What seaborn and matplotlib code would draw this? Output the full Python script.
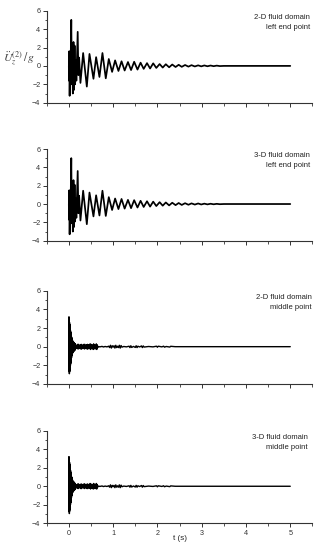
import matplotlib
matplotlib.use("Agg")
import matplotlib.pyplot as plt
from matplotlib.ticker import MultipleLocator
import seaborn as sns
import pandas as pd

# ---- data (extrema of the acceleration records) ----
t_left_2d = [0.000, 0.004, 0.010, 0.018, 0.028, 0.036, 0.055, 0.068, 0.078, 0.090,
             0.105, 0.118, 0.130, 0.142, 0.155, 0.170, 0.200, 0.215, 0.232, 0.262,
             0.323, 0.406, 0.466, 0.556, 0.616, 0.691, 0.759, 0.834, 0.902, 0.977,
             1.045, 1.120, 1.190, 1.260, 1.335, 1.405, 1.475, 1.550, 1.620, 1.690,
             1.765, 1.835, 1.905, 1.975, 2.050, 2.120, 2.190, 2.265, 2.335, 2.410,
             2.480, 2.550, 2.625, 2.700, 2.770, 2.845, 2.920, 2.990, 3.060, 3.130,
             3.200, 3.270, 3.340, 3.410, 3.500, 5.000]
v_left_2d = [0.00, -1.60, 1.60, -3.25, 0.60, -1.20, 5.00, -2.00, 1.20, -3.00,
             2.60, -2.60, 2.20, -2.00, 0.60, -1.60, 3.70, -1.00, 0.90, -1.85,
             1.40, -2.25, 1.30, -1.40, 0.95, -1.20, 1.40, -1.35, 0.75, -0.65,
             0.60, -0.55, 0.50, -0.50, 0.42, -0.45, 0.45, -0.40, 0.35, -0.32,
             0.30, -0.28, 0.28, -0.22, 0.20, -0.18, 0.18, -0.15, 0.15, -0.12,
             0.12, -0.10, 0.10, -0.08, 0.08, -0.06, 0.06, -0.05, 0.05, -0.04,
             0.04, -0.03, 0.03, -0.02, 0.00, 0.00]

t_left_3d = [0.000, 0.004, 0.010, 0.018, 0.028, 0.036, 0.055, 0.068, 0.078, 0.090,
             0.105, 0.118, 0.130, 0.142, 0.155, 0.170, 0.200, 0.215, 0.232, 0.262,
             0.323, 0.406, 0.466, 0.556, 0.616, 0.691, 0.759, 0.834, 0.902, 0.977,
             1.045, 1.120, 1.190, 1.260, 1.335, 1.405, 1.475, 1.550, 1.620, 1.690,
             1.765, 1.835, 1.905, 1.975, 2.050, 2.120, 2.190, 2.265, 2.335, 2.410,
             2.480, 2.550, 2.625, 2.700, 2.770, 2.845, 2.920, 2.990, 3.060, 3.130,
             3.200, 3.270, 3.340, 3.410, 3.500, 5.000]
v_left_3d = [0.00, -1.70, 1.50, -3.30, 0.50, -1.10, 5.00, -2.10, 1.10, -3.00,
             2.60, -2.50, 2.10, -1.90, 0.60, -1.50, 3.60, -1.00, 0.90, -1.80,
             1.45, -2.20, 1.25, -1.35, 0.95, -1.25, 1.45, -1.30, 0.75, -0.65,
             0.60, -0.55, 0.55, -0.50, 0.45, -0.45, 0.42, -0.38, 0.35, -0.32,
             0.30, -0.28, 0.26, -0.22, 0.20, -0.18, 0.17, -0.15, 0.14, -0.12,
             0.11, -0.10, 0.09, -0.08, 0.07, -0.06, 0.06, -0.05, 0.04, -0.04,
             0.03, -0.03, 0.02, -0.02, 0.00, 0.00]

t_mid = [0.000, 0.003, 0.006, 0.009, 0.012, 0.015, 0.018, 0.021, 0.024, 0.027,
         0.030, 0.033, 0.036, 0.039, 0.042, 0.045, 0.048, 0.051, 0.054, 0.057,
         0.060, 0.063, 0.066, 0.069, 0.072, 0.075, 0.078, 0.081, 0.084, 0.087,
         0.090, 0.093, 0.096, 0.099, 0.102, 0.106, 0.110, 0.114, 0.118, 0.122,
         0.126, 0.130, 0.134, 0.138, 0.142, 0.146, 0.150, 0.155, 0.160, 0.165,
         0.170, 0.180, 0.190, 0.200, 0.210, 0.220, 0.230, 0.240, 0.250, 0.260,
         0.270, 0.280, 0.290, 0.300, 0.310, 0.320, 0.330, 0.340, 0.350, 0.360,
         0.370, 0.380, 0.390, 0.400, 0.410, 0.420, 0.430, 0.440, 0.450, 0.460,
         0.470, 0.480, 0.490, 0.500, 0.510, 0.520, 0.530, 0.540, 0.550, 0.560,
         0.570, 0.580, 0.590, 0.600, 0.610, 0.620, 0.630, 0.640, 0.650, 0.670,
         0.700, 0.750, 0.780, 0.820, 0.860, 0.900, 0.920, 0.940, 0.960, 0.980,
         1.000, 1.020, 1.040, 1.060, 1.080, 1.100, 1.120, 1.140, 1.160, 1.180,
         1.200, 1.240, 1.300, 1.360, 1.380, 1.400, 1.420, 1.460, 1.500, 1.520,
         1.540, 1.560, 1.600, 1.640, 1.660, 1.680, 1.700, 1.800, 1.900, 1.980,
         2.000, 2.020, 2.100, 2.140, 2.160, 2.200, 2.280, 2.300, 2.400, 5.000]
v_mid_2d = [0.00, 3.20, -2.60, 2.90, -2.90, 2.60, -2.70, 2.40, -2.50, 2.20,
            -2.20, 1.90, -2.00, 1.70, -1.80, 1.50, -1.60, 1.30, -1.40, 1.10,
            -1.20, 1.00, -1.00, 0.90, -0.90, 0.80, -0.80, 0.70, -0.70, 0.60,
            -0.60, 0.50, -0.55, 0.50, -0.50, 0.45, -0.50, 0.40, -0.45, 0.45,
            -0.40, 0.35, -0.35, 0.30, -0.35, 0.30, -0.25, 0.20, -0.15, 0.10,
            -0.10, 0.15, -0.20, 0.25, -0.25, 0.25, -0.20, 0.10, -0.05, 0.20,
            -0.25, 0.25, -0.25, 0.20, -0.10, 0.05, -0.15, 0.25, -0.25, 0.25,
            -0.20, 0.10, -0.05, 0.20, -0.25, 0.25, -0.25, 0.20, -0.10, 0.05,
            -0.20, 0.30, -0.30, 0.25, -0.20, 0.05, -0.05, 0.20, -0.30, 0.30,
            -0.25, 0.20, -0.05, 0.05, -0.25, 0.30, -0.30, 0.20, -0.10, 0.02,
            -0.02, 0.03, -0.03, 0.02, -0.02, 0.05, -0.10, 0.15, -0.15, 0.10,
            -0.05, 0.10, -0.15, 0.15, -0.10, 0.05, -0.10, 0.15, -0.15, 0.12,
            -0.05, 0.02, -0.02, 0.05, -0.10, 0.10, -0.08, 0.03, -0.08, 0.10,
            -0.10, 0.05, -0.03, 0.08, -0.10, 0.08, -0.04, 0.02, -0.02, 0.05,
            -0.06, 0.05, -0.02, 0.05, -0.05, 0.02, -0.04, 0.04, 0.00, 0.00]
v_mid_3d = [0.00, 3.20, -2.70, 2.90, -2.95, 2.60, -2.70, 2.40, -2.50, 2.20,
            -2.20, 1.90, -2.00, 1.70, -1.80, 1.50, -1.60, 1.30, -1.40, 1.10,
            -1.20, 1.00, -1.00, 0.90, -0.90, 0.80, -0.80, 0.70, -0.70, 0.60,
            -0.60, 0.50, -0.55, 0.50, -0.50, 0.45, -0.50, 0.40, -0.45, 0.45,
            -0.40, 0.35, -0.35, 0.30, -0.35, 0.30, -0.25, 0.20, -0.15, 0.10,
            -0.10, 0.15, -0.20, 0.25, -0.25, 0.25, -0.20, 0.10, -0.05, 0.20,
            -0.25, 0.25, -0.25, 0.20, -0.10, 0.05, -0.15, 0.25, -0.25, 0.25,
            -0.20, 0.10, -0.05, 0.20, -0.25, 0.25, -0.25, 0.20, -0.10, 0.05,
            -0.20, 0.30, -0.30, 0.25, -0.20, 0.05, -0.05, 0.20, -0.30, 0.30,
            -0.25, 0.20, -0.05, 0.05, -0.25, 0.30, -0.30, 0.20, -0.10, 0.02,
            -0.02, 0.03, -0.03, 0.02, -0.02, 0.05, -0.10, 0.15, -0.15, 0.10,
            -0.05, 0.10, -0.15, 0.15, -0.10, 0.05, -0.10, 0.15, -0.15, 0.12,
            -0.05, 0.02, -0.02, 0.05, -0.10, 0.10, -0.08, 0.03, -0.08, 0.10,
            -0.10, 0.05, -0.03, 0.08, -0.10, 0.08, -0.04, 0.02, -0.02, 0.05,
            -0.06, 0.05, -0.02, 0.05, -0.05, 0.02, -0.04, 0.04, 0.00, 0.00]

labels_line1 = ["2-D fluid domain", "3-D fluid domain", "2-D fluid domain", "3-D fluid domain"]
labels_line2 = ["left end point", "left end point", "middle point", "middle point"]
x_ticks = [0, 1, 2, 3, 4, 5]
y_ticks = [-4, -2, 0, 2, 4, 6]
x_label = "t (s)"
y_label = r"$\ddot{U}_z^{(2)}\,/\,g$"

series = [(t_left_2d, v_left_2d), (t_left_3d, v_left_3d),
          (t_mid, v_mid_2d), (t_mid, v_mid_3d)]
line_widths = [1.25, 1.25, 1.0, 1.0]

# ---- figure ----
sns.set_style("ticks")
plt.rcParams['font.family'] = ['Liberation Sans', 'DejaVu Sans']
plt.rcParams['mathtext.fontset'] = 'stix'

fig = plt.figure(figsize=(3.23, 5.57), dpi=100)
W, H = 323.0, 557.0
left_px, right_px = 46.7, 312.4
panels_px = [(10.7, 102.7), (149.0, 240.7), (290.7, 384.0), (430.7, 523.3)]
text_right = [310.0, 310.0, 311.5, 307.5]

spine_col = "#333333"
for i, ((top, bot), (tt, vv)) in enumerate(zip(panels_px, series)):
    ax = fig.add_axes([left_px / W, 1 - bot / H, (right_px - left_px) / W, (bot - top) / H])
    df = pd.DataFrame({"t": tt, "a": vv})
    sns.lineplot(data=df, x="t", y="a", ax=ax, estimator=None, sort=False,
                 color="black", linewidth=line_widths[i])
    ax.set_xlim(-0.5, 5.5)
    ax.set_ylim(-4, 6)
    ax.set_xticks(x_ticks)
    ax.set_yticks(y_ticks)
    ax.xaxis.set_minor_locator(MultipleLocator(0.5))
    ax.yaxis.set_minor_locator(MultipleLocator(1))
    sns.despine(ax=ax)
    for s in ("left", "bottom"):
        ax.spines[s].set_color(spine_col)
        ax.spines[s].set_linewidth(0.8)
    ax.tick_params(which="major", direction="out", length=3.0, width=0.7,
                   colors=spine_col, labelsize=5.2, pad=1.5)
    ax.tick_params(which="minor", direction="out", length=1.8, width=0.6,
                   colors=spine_col)
    ax.set_ylabel("")
    if i < 3:
        ax.set_xlabel("")
        ax.tick_params(axis="x", labelbottom=False)
    else:
        ax.set_xlabel(x_label, fontsize=5.8, color="#222222", labelpad=-1)
    xr = (text_right[i] - left_px) / (right_px - left_px)
    ax.text(xr, 0.93, labels_line1[i], transform=ax.transAxes, ha="right", va="center",
            fontsize=5.5, color="#222222")
    ax.text(xr, 0.815, labels_line2[i], transform=ax.transAxes, ha="right", va="center",
            fontsize=5.5, color="#222222")

fig.text(19.5 / W, 1 - 58.5 / H, y_label, ha="center", va="center", fontsize=8.5,
         color="#444444")

fig.savefig("out.png", dpi=100)
